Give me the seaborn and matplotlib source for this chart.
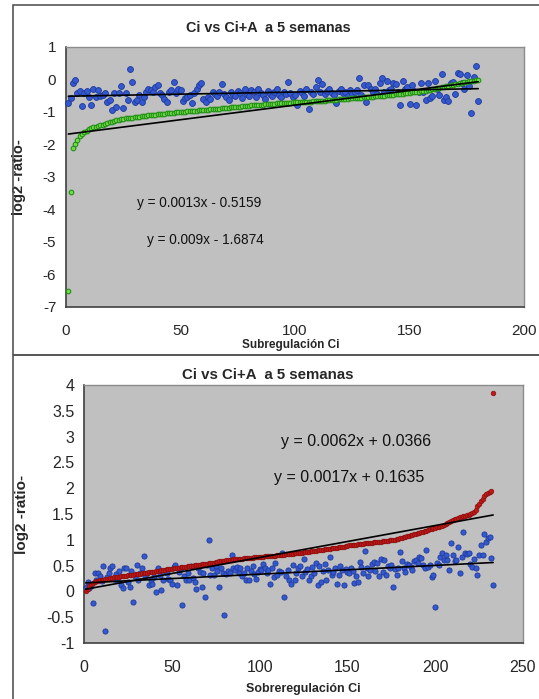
import matplotlib
matplotlib.use("Agg")

import matplotlib.pyplot as plt
import numpy as np
import pandas as pd
import seaborn as sns
from matplotlib.patches import Rectangle

TITLE = "Ci vs Ci+A  a 5 semanas"
YLABEL = "log2 -ratio-"

# --- top panel: Subregulación ---
TOP_XLABEL = "Subregulación Ci"
TOP_XTICKS = [0, 50, 100, 150, 200]
TOP_YTICKS = [-7, -6, -5, -4, -3, -2, -1, 0, 1]

top_blue = [
    -0.72, -0.57, -0.11, -0.02, -0.42, -0.35, -0.82, -0.42, -0.35, -0.53,
    -0.78, -0.29, -0.53, -0.32, -0.51, -0.48, -0.42, -0.69, -0.63, -0.94,
    -0.42, -0.85, -0.42, -0.20, -0.88, -0.42, -0.63, 0.32, -0.08, -0.69,
    -0.63, -0.48, -0.69, -0.53, -0.38, -0.29, -0.32, -0.38, -0.23, -0.17,
    -0.42, -0.48, -0.60, -0.69, -0.38, -0.32, -0.08, -0.42, -0.29, -0.32,
    -0.66, -0.57, -0.53, -0.48, -0.72, -0.42, -0.29, -0.17, -0.11, -0.60,
    -0.69, -0.53, -0.60, -0.38, -0.45, -0.50, -0.40, -0.14, -0.45, -0.55,
    -0.62, -0.38, -0.48, -0.52, -0.35, -0.42, -0.58, -0.30, -0.45, -0.50,
    -0.33, -0.40, -0.55, -0.28, -0.42, -0.48, -0.60, -0.36, -0.44, -0.52,
    -0.40, -0.30, -0.47, -0.53, -0.38, -0.45, -0.08, -0.42, -0.55, -0.48,
    -0.78, -0.35, -0.43, -0.50, -0.30, -0.91, -0.40, -0.46, -0.22, -0.02,
    -0.38, -0.14, -0.44, -0.36, -0.30, -0.41, -0.49, -0.72, -0.35, -0.28,
    -0.42, -0.38, -0.52, -0.31, -0.45, -0.40, -0.33, 0.05, -0.47, -0.17,
    -0.69, -0.17, -0.28, -0.38, -0.30, -0.45, -0.11, 0.05, -0.40, -0.05,
    -0.33, -0.28, -0.11, -0.15, -0.40, -0.78, -0.05, -0.29, -0.22, -0.75,
    -0.17, -0.35, -0.78, -0.40, -0.11, -0.38, -0.63, -0.10, -0.57, -0.50,
    -0.05, -0.30, -0.48, 0.17, -0.63, -0.55, -0.65, -0.12, -0.07, -0.45,
    0.20, 0.17, -0.11, -0.30, 0.14, -0.20, -1.03, 0.08, 0.42, -0.66,
]

top_green = [
    -6.50, -3.45, -2.10, -2.00, -1.86, -1.74, -1.68, -1.62, -1.57, -1.53,
    -1.50, -1.47, -1.45, -1.43, -1.41, -1.39, -1.37, -1.35, -1.32, -1.30,
    -1.28, -1.26, -1.24, -1.23, -1.22, -1.20, -1.19, -1.18, -1.17, -1.16,
    -1.15, -1.14, -1.13, -1.12, -1.11, -1.10, -1.09, -1.08, -1.08, -1.07,
    -1.06, -1.05, -1.05, -1.04, -1.03, -1.03, -1.02, -1.01, -1.01, -1.00,
    -0.99, -0.99, -0.98, -0.98, -0.97, -0.96, -0.96, -0.95, -0.95, -0.94,
    -0.94, -0.93, -0.92, -0.92, -0.91, -0.91, -0.90, -0.89, -0.88, -0.88,
    -0.87, -0.86, -0.86, -0.85, -0.84, -0.84, -0.83, -0.82, -0.82, -0.81,
    -0.80, -0.80, -0.79, -0.78, -0.78, -0.77, -0.76, -0.76, -0.75, -0.74,
    -0.74, -0.73, -0.73, -0.72, -0.72, -0.71, -0.71, -0.71, -0.70, -0.70,
    -0.70, -0.69, -0.69, -0.69, -0.69, -0.68, -0.68, -0.67, -0.67, -0.66,
    -0.66, -0.65, -0.65, -0.64, -0.64, -0.63, -0.62, -0.62, -0.61, -0.60,
    -0.60, -0.59, -0.59, -0.58, -0.58, -0.57, -0.57, -0.56, -0.56, -0.55,
    -0.55, -0.54, -0.54, -0.53, -0.52, -0.52, -0.51, -0.50, -0.50, -0.49,
    -0.48, -0.47, -0.47, -0.46, -0.45, -0.44, -0.44, -0.43, -0.42, -0.41,
    -0.40, -0.39, -0.38, -0.37, -0.36, -0.35, -0.34, -0.33, -0.31, -0.30,
    -0.29, -0.27, -0.26, -0.24, -0.23, -0.21, -0.20, -0.18, -0.16, -0.15,
    -0.13, -0.11, -0.10, -0.08, -0.07, -0.06, -0.05, -0.04, -0.03, -0.02,
]

# trendlines as printed on the chart: (slope, intercept)
top_blue_fit = (0.0013, -0.5159)
top_green_fit = (0.009, -1.6874)
top_eq_labels = ["y = 0.0013x - 0.5159", "y = 0.009x - 1.6874"]
top_eq_pos = [(58, -3.8), (61, -4.95)]

# --- bottom panel: Sobreregulación ---
BOT_XLABEL = "Sobreregulación Ci"
BOT_XTICKS = [0, 50, 100, 150, 200, 250]
BOT_YTICKS = [-1, -0.5, 0, 0.5, 1, 1.5, 2, 2.5, 3, 3.5, 4]

bot_red = [
    0.00, 0.05, 0.10, 0.14, 0.17, 0.19, 0.20, 0.21, 0.22, 0.23,
    0.23, 0.24, 0.24, 0.25, 0.26, 0.26, 0.27, 0.27, 0.28, 0.28,
    0.29, 0.29, 0.30, 0.30, 0.31, 0.31, 0.32, 0.32, 0.33, 0.33,
    0.34, 0.34, 0.35, 0.35, 0.36, 0.36, 0.37, 0.37, 0.38, 0.38,
    0.39, 0.40, 0.40, 0.41, 0.41, 0.42, 0.43, 0.43, 0.44, 0.44,
    0.45, 0.45, 0.46, 0.46, 0.47, 0.47, 0.48, 0.48, 0.49, 0.49,
    0.50, 0.50, 0.51, 0.51, 0.52, 0.52, 0.53, 0.53, 0.54, 0.54,
    0.55, 0.55, 0.56, 0.56, 0.57, 0.57, 0.58, 0.58, 0.59, 0.59,
    0.60, 0.60, 0.61, 0.61, 0.62, 0.62, 0.62, 0.63, 0.63, 0.63,
    0.64, 0.64, 0.64, 0.65, 0.65, 0.65, 0.66, 0.66, 0.66, 0.67,
    0.67, 0.67, 0.68, 0.68, 0.68, 0.68, 0.69, 0.69, 0.69, 0.70,
    0.70, 0.70, 0.71, 0.71, 0.72, 0.72, 0.72, 0.73, 0.73, 0.74,
    0.74, 0.75, 0.75, 0.75, 0.76, 0.76, 0.77, 0.77, 0.78, 0.78,
    0.79, 0.79, 0.80, 0.80, 0.81, 0.81, 0.82, 0.82, 0.83, 0.83,
    0.84, 0.84, 0.85, 0.85, 0.86, 0.86, 0.87, 0.87, 0.88, 0.88,
    0.89, 0.89, 0.90, 0.90, 0.90, 0.91, 0.91, 0.92, 0.92, 0.93,
    0.93, 0.93, 0.94, 0.94, 0.95, 0.95, 0.95, 0.96, 0.96, 0.97,
    0.97, 0.98, 0.98, 0.99, 0.99, 1.00, 1.00, 1.01, 1.02, 1.03,
    1.04, 1.05, 1.06, 1.07, 1.08, 1.09, 1.10, 1.11, 1.12, 1.13,
    1.14, 1.15, 1.16, 1.17, 1.18, 1.19, 1.20, 1.21, 1.22, 1.23,
    1.24, 1.25, 1.26, 1.27, 1.28, 1.30, 1.32, 1.34, 1.36, 1.38,
    1.40, 1.41, 1.42, 1.44, 1.45, 1.46, 1.47, 1.48, 1.49, 1.50,
    1.52, 1.53, 1.58, 1.65, 1.70, 1.76, 1.80, 1.84, 1.88, 1.90,
    1.93, 1.95, 3.85,
]

bot_blue = [
    0.09, 0.19, 0.06, 0.10, -0.23, 0.36, 0.22, 0.36, 0.30, 0.20,
    0.49, -0.77, 0.28, 0.36, 0.45, 0.49, 0.25, 0.33, 0.22, 0.40,
    0.12, 0.06, 0.45, 0.45, 0.18, 0.09, 0.40, -0.21, 0.29, 0.51,
    0.22, 0.35, 0.45, 0.69, 0.29, 0.36, 0.12, 0.22, 0.15, 0.27,
    -0.01, 0.45, 0.31, 0.03, 0.22, 0.40, 0.36, 0.25, 0.22, 0.14,
    0.47, 0.51, 0.13, 0.38, 0.45, -0.26, 0.29, 0.22, 0.36, 0.22,
    0.49, 0.26, 0.19, 0.05, 0.45, 0.38, 0.09, 0.36, -0.11, 0.51,
    1.00, 0.32, 0.45, 0.32, 0.49, 0.40, 0.09, 0.45, 0.36, -0.46,
    0.33, 0.40, 0.35, 0.70, 0.45, 0.42, 0.48, 0.36, 0.45, 0.30,
    0.35, 0.22, 0.45, 0.23, 0.40, 0.49, 0.33, 0.25, 0.38, 0.44,
    0.41, 0.54, 0.45, 0.36, 0.41, 0.15, 0.45, 0.28, 0.55, 0.32,
    0.40, 0.38, 0.74, -0.10, 0.30, 0.42, 0.22, 0.14, 0.51, 0.22,
    0.36, 0.45, 0.49, 0.30, 0.62, 0.38, 0.44, 0.22, 0.29, 0.47,
    0.36, 0.55, 0.12, 0.49, 0.19, 0.40, 0.54, 0.22, 0.42, 0.66,
    0.32, 0.38, 0.46, 0.15, 0.32, 0.50, 0.41, 0.12, 0.44, 0.38,
    0.35, 0.45, 0.40, 0.17, 0.29, 0.19, 0.57, 0.48, 0.36, 0.79,
    0.45, 0.30, 0.42, 0.54, 0.57, 0.40, 0.55, 0.29, 0.62, 0.38,
    0.61, 0.32, 0.50, 0.45, 0.51, 0.08, 0.44, 0.32, 0.45, 0.77,
    0.58, 0.45, 0.38, 0.54, 0.51, 0.48, 0.42, 0.58, 0.61, 0.55,
    0.67, 0.64, 0.52, 0.45, 0.80, 0.47, 0.51, 0.27, 0.32, -0.30,
    0.55, 0.51, 0.67, 0.74, 0.60, 0.70, 0.61, 0.41, 0.93, 0.70,
    0.58, 0.61, 0.87, 0.35, 0.67, 1.16, 0.74, 0.72, 0.74, 0.53,
    0.48, 0.62, 0.45, 0.32, 0.70, 0.90, 0.70, 1.12, 0.96, 1.03,
    1.06, 0.64, 0.12,
]

bot_red_fit = (0.0062, 0.0366)
bot_blue_fit = (0.0017, 0.1635)
bot_eq_labels = ["y = 0.0062x + 0.0366", "y = 0.0017x + 0.1635"]
bot_eq_pos = [(155, 2.91), (151, 2.20)]

BLUE = "#3558cc"
BLUE_EDGE = "#1d3a9e"
GREEN = "#72dc48"
GREEN_EDGE = "#239018"
RED = "#c01818"
RED_EDGE = "#8a0f0f"
PLOT_BG = "#c0c0c0"


def series_frame(values):
    return pd.DataFrame({"x": np.arange(1, len(values) + 1), "y": values})


def draw_trend(ax, n, fit):
    xs = np.array([1, n])
    ax.plot(xs, fit[0] * xs + fit[1], color="black", lw=1.2, zorder=4)


def style_axes(ax, xticks, yticks, tick_fs):
    ax.set_facecolor(PLOT_BG)
    ax.set_xlim(xticks[0], xticks[-1])
    ax.set_ylim(yticks[0], yticks[-1])
    ax.set_xticks(xticks)
    ax.set_yticks(yticks)
    ax.set_yticklabels([f"{t:g}" for t in yticks])
    ax.tick_params(axis="both", direction="out", length=4, width=1,
                   color="#404040", labelsize=tick_fs, pad=3)
    ax.tick_params(axis="x", pad=8)
    for side in ["left", "bottom"]:
        ax.spines[side].set_color("#404040")
        ax.spines[side].set_linewidth(1.2)
    for side in ["top", "right"]:
        ax.spines[side].set_color("#8c8c8c")
        ax.spines[side].set_linewidth(1.0)
    ax.grid(False)


sns.set_style("white")
plt.rcParams["font.family"] = ["Liberation Sans", "DejaVu Sans"]

fig = plt.figure(figsize=(5.39, 6.99), dpi=100)

# panel frames
fig.add_artist(Rectangle((13 / 539, 1 - 355 / 699), 1.0, 350 / 699,
                         transform=fig.transFigure, fill=False,
                         edgecolor="#555555", lw=1.2))
fig.add_artist(Rectangle((13 / 539, -0.01), 1.0, 1 - 355 / 699 + 0.01,
                         transform=fig.transFigure, fill=False,
                         edgecolor="#555555", lw=1.2))

# ---------- top chart ----------
ax1 = fig.add_axes([66 / 539, 1 - 307 / 699, 458 / 539, 260 / 699])
style_axes(ax1, TOP_XTICKS, TOP_YTICKS, 11)
sns.scatterplot(data=series_frame(top_blue), x="x", y="y", ax=ax1,
                color=BLUE, edgecolor=BLUE_EDGE, linewidth=0.6, s=18,
                marker="o", zorder=3, clip_on=False)
sns.scatterplot(data=series_frame(top_green), x="x", y="y", ax=ax1,
                color=GREEN, edgecolor=GREEN_EDGE, linewidth=0.8, s=11,
                marker="o", zorder=3, clip_on=False)
draw_trend(ax1, len(top_blue), top_blue_fit)
draw_trend(ax1, len(top_green), top_green_fit)
for lbl, (ex, ey) in zip(top_eq_labels, top_eq_pos):
    ax1.text(ex, ey, lbl, ha="center", va="center", fontsize=9.8, color="#111111")
ax1.set_xlabel(TOP_XLABEL, fontsize=8.5, fontweight="bold")
ax1.xaxis.set_label_coords(0.49, -0.125)
ax1.set_ylabel(YLABEL, fontsize=10.5, fontweight="bold")
ax1.yaxis.set_label_coords(-0.088, 0.5)
fig.text(268 / 539, 1 - 28 / 699, TITLE, ha="center", va="center",
         fontsize=10.4, fontweight="bold")

# ---------- bottom chart ----------
ax2 = fig.add_axes([84 / 539, 1 - 643 / 699, 439 / 539, 258 / 699])
style_axes(ax2, BOT_XTICKS, BOT_YTICKS, 11.5)
sns.scatterplot(data=series_frame(bot_blue), x="x", y="y", ax=ax2,
                color=BLUE, edgecolor=BLUE_EDGE, linewidth=0.6, s=14,
                marker="o", zorder=3, clip_on=False)
sns.scatterplot(data=series_frame(bot_red), x="x", y="y", ax=ax2,
                color=RED, edgecolor=RED_EDGE, linewidth=0.5, s=11,
                marker="o", zorder=3, clip_on=False)
draw_trend(ax2, len(bot_red), bot_red_fit)
draw_trend(ax2, len(bot_blue), bot_blue_fit)
for lbl, (ex, ey) in zip(bot_eq_labels, bot_eq_pos):
    ax2.text(ex, ey, lbl, ha="center", va="center", fontsize=11.5, color="#111111")
ax2.set_xlabel(BOT_XLABEL, fontsize=9, fontweight="bold")
ax2.xaxis.set_label_coords(0.50, -0.155)
ax2.set_ylabel(YLABEL, fontsize=11, fontweight="bold")
ax2.yaxis.set_label_coords(-0.125, 0.5)
fig.text(268 / 539, 1 - 375 / 699, TITLE, ha="center", va="center",
         fontsize=10.8, fontweight="bold")

fig.savefig("out.png", dpi=100)
